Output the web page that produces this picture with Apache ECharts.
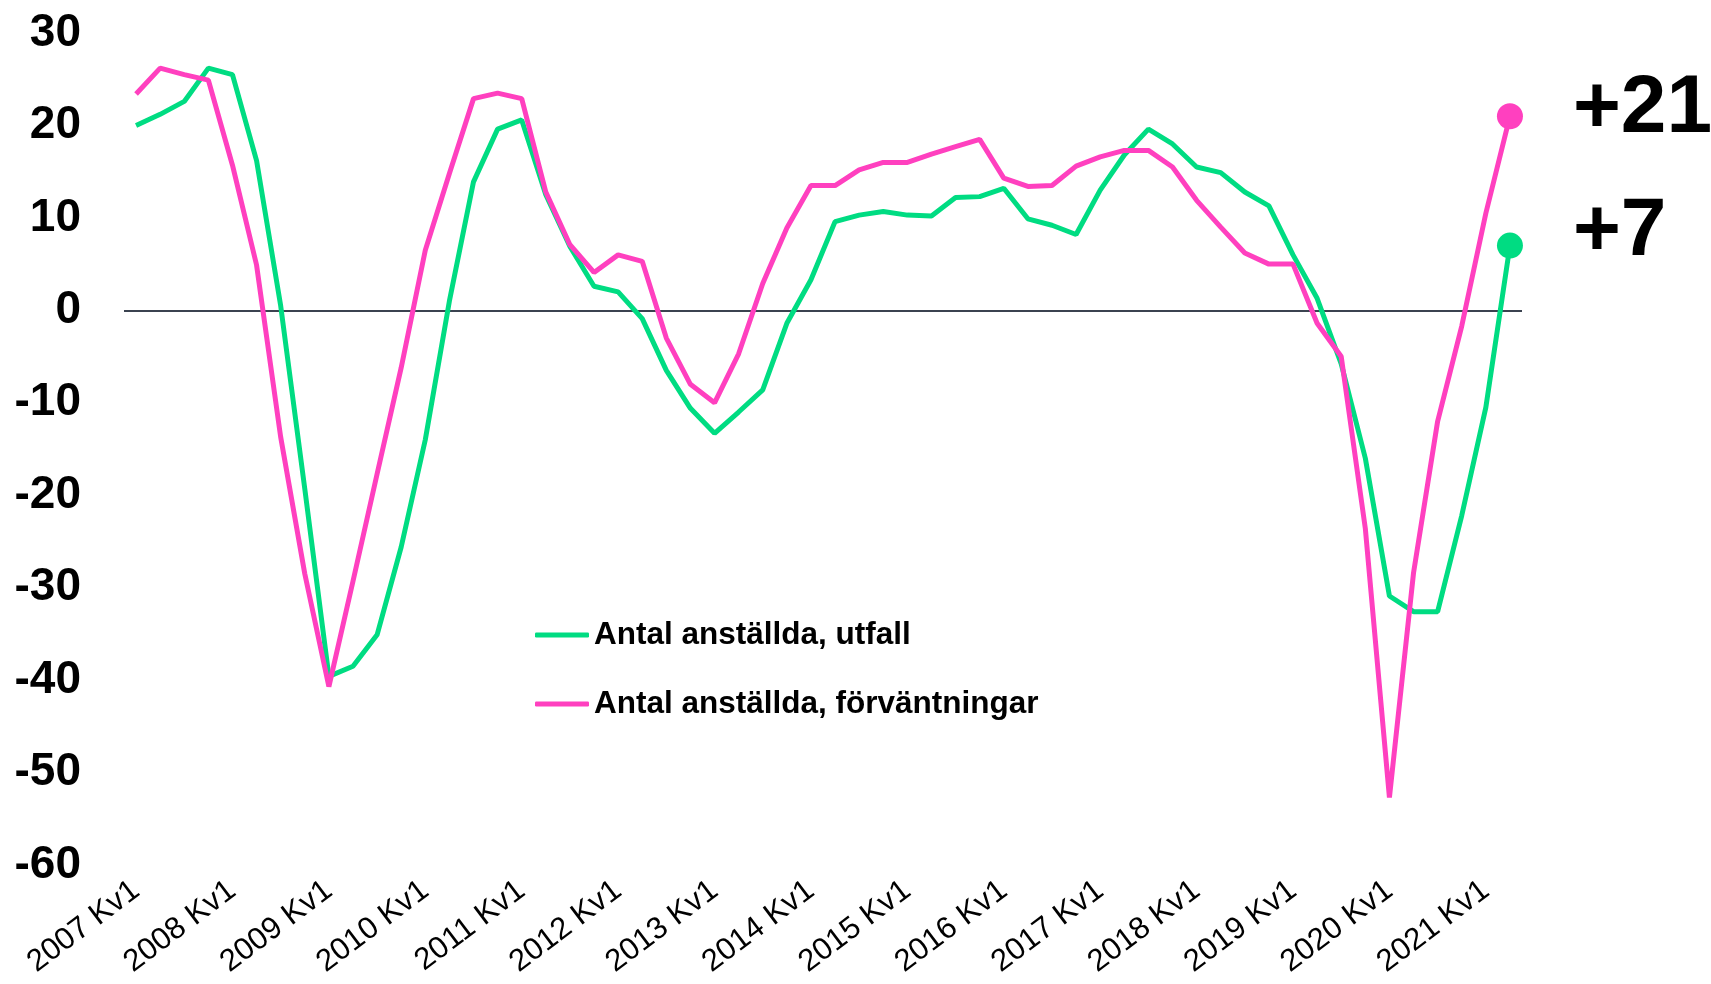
<!DOCTYPE html>
<html>
<head>
<meta charset="utf-8">
<script src="https://cdn.jsdelivr.net/npm/echarts@6/dist/echarts.min.js"></script>
<style>
html,body{margin:0;padding:0;background:#fff;}
#chart{width:1711px;height:984px;}
</style>
</head>
<body>
<div id="chart"></div>
<script>
// Quarters 2007 Kv1 .. 2021 Kv2
const startYear = 2007;
const quarters = [];
for (let y = startYear; y <= 2021; y++) {
  for (let q = 1; q <= 4; q++) {
    if (y === 2021 && q > 2) break;
    quarters.push(y + ' Kv' + q);
  }
}

const utfallName = 'Antal anställda, utfall';
const forvName = 'Antal anställda, förväntningar';

const utfall = [
  20, 21.2, 22.6, 26.2, 25.5, 16.2, 0.5, -19.3,
  -39.6, -38.5, -35.1, -25.6, -14.0, 1.0, 13.9, 19.6,
  20.6, 12.5, 6.9, 2.6, 2.0, -0.9, -6.5, -10.6,
  -13.3, -11.0, -8.6, -1.4, 3.3, 9.6, 10.3, 10.7,
  10.3, 10.2, 12.2, 12.3, 13.2, 9.9, 9.2, 8.2,
  13.0, 16.8, 19.6, 18.0, 15.5, 14.9, 12.8, 11.3,
  6.0, 1.3, -5.8, -16.0, -30.9, -32.6, -32.6, -22.2,
  -10.5, 7
];

const forvantningar = [
  23.4, 26.2, 25.5, 24.9, 15.7, 4.9, -13.7, -28.5,
  -40.7, -29.3, -17.7, -6.2, 6.5, 14.8, 22.9, 23.5,
  22.9, 12.8, 7.1, 4.1, 6.0, 5.3, -3.0, -8.0,
  -10.0, -4.7, 2.9, 8.9, 13.5, 13.5, 15.2, 16.0,
  16.0, 16.9, 17.7, 18.5, 14.3, 13.4, 13.5, 15.6,
  16.6, 17.3, 17.3, 15.5, 11.9, 9.0, 6.2, 5.0,
  5.0, -1.4, -5.0, -23.6, -52.7, -28.4, -12.0, -1.7,
  10.5, 21
];

const yMin = -60, yMax = 30, yStep = 10;

const GREEN = '#00DC82';
const PINK = '#FF40BF';

function withEndMarker(arr, color, labelOffsetY) {
  return arr.map((v, i) => {
    if (i !== arr.length - 1) return v;
    return {
      value: v,
      symbol: 'circle',
      symbolSize: 26,
      itemStyle: { color: color },
      label: {
        show: true,
        position: 'right',
        distance: 50,
        offset: [0, labelOffsetY],
        formatter: (p) => (p.value > 0 ? '+' : '') + Math.round(p.value),
        fontFamily: 'Liberation Sans, Arial, sans-serif',
        fontWeight: 'bold',
        fontSize: 82,
        color: '#000'
      }
    };
  });
}

const chart = echarts.init(document.getElementById('chart'));
chart.setOption({
  animation: false,
  backgroundColor: '#fff',
  grid: { left: 124, right: 189, top: 33, bottom: 119, containLabel: false },
  legend: {
    orient: 'vertical',
    left: 530,
    top: 614,
    itemWidth: 54,
    itemHeight: 5,
    itemGap: 37,
    icon: 'roundRect',
    textStyle: {
      fontFamily: 'Liberation Sans, Arial, sans-serif',
      fontWeight: 'bold',
      fontSize: 31.5,
      color: '#000'
    },
    data: [utfallName, forvName]
  },
  xAxis: {
    type: 'category',
    data: quarters,
    boundaryGap: true,
    axisLine: { show: false },
    axisTick: { show: false },
    splitLine: { show: false },
    axisLabel: {
      interval: 3,
      rotate: 37,
      margin: 22,
      fontFamily: 'Liberation Sans, Arial, sans-serif',
      fontSize: 31,
      color: '#000'
    }
  },
  yAxis: {
    type: 'value',
    min: yMin,
    max: yMax,
    interval: yStep,
    axisLine: { show: false },
    axisTick: { show: false },
    splitLine: { show: false },
    axisLabel: {
      margin: 43,
      fontFamily: 'Liberation Sans, Arial, sans-serif',
      fontWeight: 'bold',
      fontSize: 46,
      color: '#000'
    }
  },
  series: [
    {
      name: utfallName,
      type: 'line',
      data: withEndMarker(utfall, GREEN, -13),
      showSymbol: true,
      symbol: 'none',
      color: GREEN,
      lineStyle: { color: GREEN, width: 5 },
      z: 3,
      markLine: {
        silent: true,
        symbol: ['none', 'none'],
        label: { show: false },
        lineStyle: { color: '#3b4350', width: 2, type: 'solid' },
        data: [{ yAxis: 0 }],
        z: 1
      }
    },
    {
      name: forvName,
      type: 'line',
      data: withEndMarker(forvantningar, PINK, -7),
      showSymbol: true,
      symbol: 'none',
      color: PINK,
      lineStyle: { color: PINK, width: 5 },
      z: 4
    }
  ]
});
</script>
</body>
</html>
